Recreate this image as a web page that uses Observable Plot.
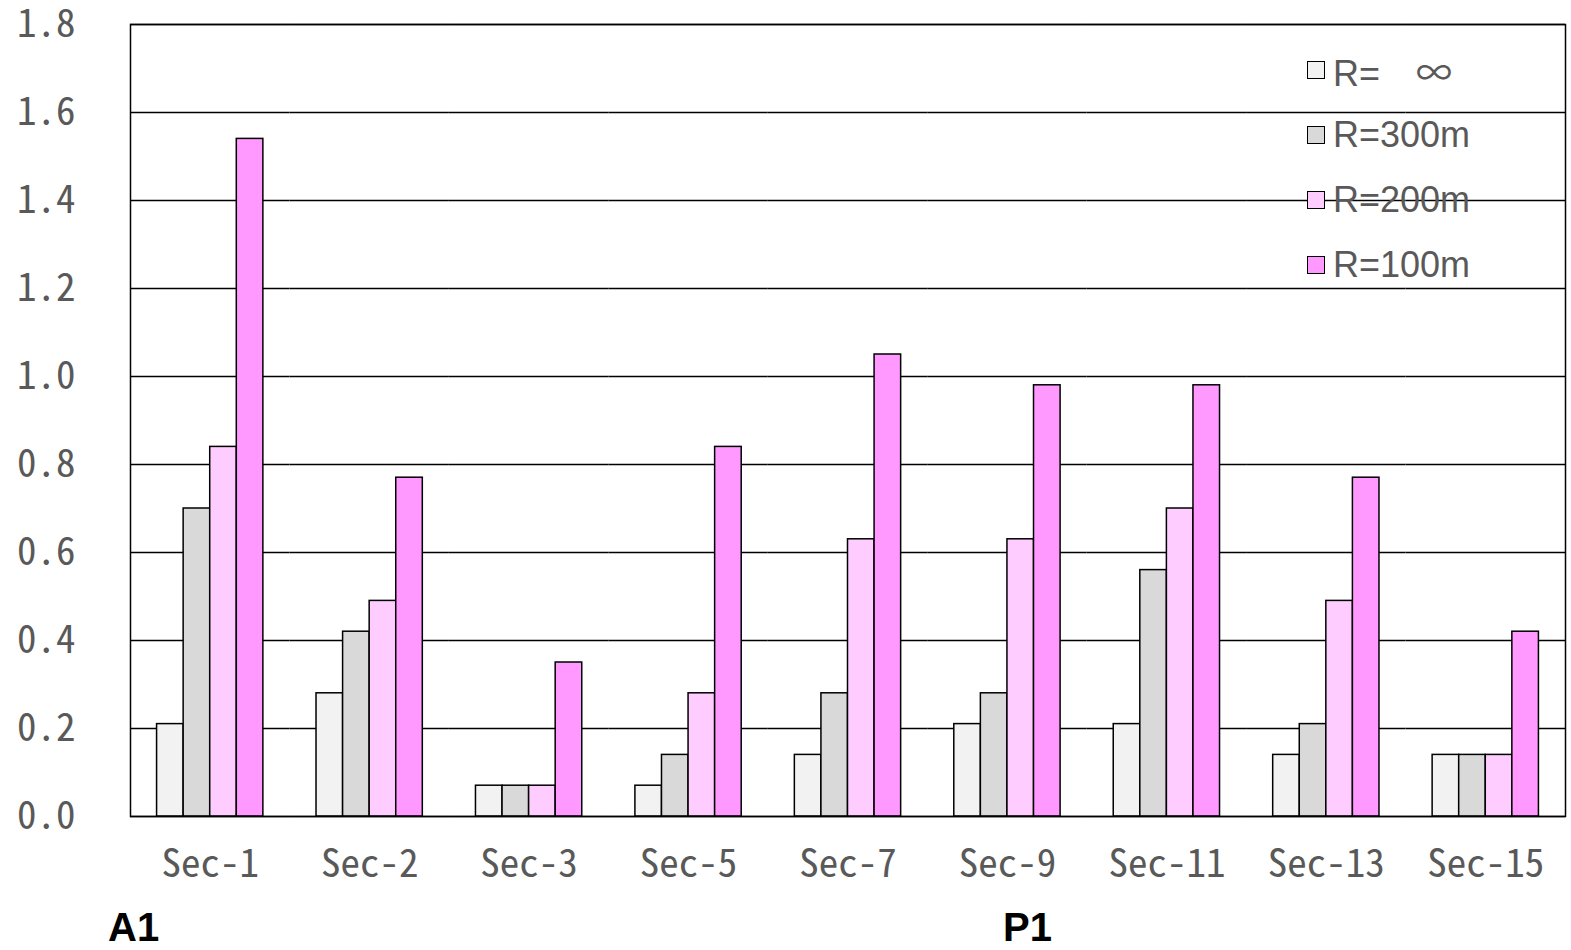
<!DOCTYPE html>
<html>
<head>
<meta charset="utf-8">
<script src="https://cdn.jsdelivr.net/npm/d3@7"></script>
<script src="https://cdn.jsdelivr.net/npm/@observablehq/plot@0.6"></script>
<style>
  html, body { margin: 0; padding: 0; background: #fff; }
  #wrap { position: relative; width: 1571px; height: 950px; }
  .legend { position: absolute; left: 1307px; top: 0; font-family: "Liberation Sans", Arial, sans-serif; font-size: 36px; color: #595959; }
  .item { position: absolute; left: 0; height: 40px; display: flex; align-items: center; white-space: pre; }
  .sw { width: 16px; height: 16px; border: 1.5px solid #000; margin-right: 8px; flex: none; }
  .tag { position: absolute; font-family: "Liberation Sans", Arial, sans-serif; font-weight: bold; font-size: 40px; line-height: 1; color: #000; }
  svg text { font-feature-settings: "hwid"; }
</style>
</head>
<body>
<div id="wrap"></div>
<script>
const categories = ["Sec-1","Sec-2","Sec-3","Sec-5","Sec-7","Sec-9","Sec-11","Sec-13","Sec-15"];
const seriesNames = ["R=\u3000∞","R=300m","R=200m","R=100m"];
const rInf = [0.21,0.28,0.07,0.07,0.14,0.21,0.21,0.14,0.14];
const r300 = [0.70,0.42,0.07,0.14,0.28,0.28,0.56,0.21,0.14];
const r200 = [0.84,0.49,0.07,0.28,0.63,0.63,0.70,0.49,0.14];
const r100 = [1.54,0.77,0.35,0.84,1.05,0.98,0.98,0.77,0.42];
const colors = ["#f2f2f2","#d9d9d9","#ffccff","#ff99ff"];
const yTicks = [0,0.2,0.4,0.6,0.8,1.0,1.2,1.4,1.6,1.8];
const tags = ["A1","P1"];

const seriesValues = [rInf, r300, r200, r100];
const data = [];
categories.forEach((c, i) => {
  seriesNames.forEach((s, j) => data.push({cat: c, series: s, value: seriesValues[j][i]}));
});

const chart = Plot.plot({
  width: 1571,
  height: 950,
  marginLeft: 130,
  marginRight: 6,
  marginTop: 24,
  marginBottom: 134,
  style: {fontFamily: "'Noto Sans CJK JP', sans-serif", fontSize: "39px", background: "#fff", overflow: "visible"},
  fx: {domain: categories, padding: 0, label: null, round: false},
  x: {domain: seriesNames, paddingInner: 0, paddingOuter: 1, axis: null, round: false},
  y: {domain: [0, 1.8], label: null},
  color: {domain: seriesNames, range: colors},
  marks: [
    Plot.ruleY(yTicks, {stroke: "#000", strokeWidth: 1.5}),
    Plot.barY(data, {fx: "cat", x: "series", y: "value", fill: "series", stroke: "#000", strokeWidth: 1.5}),
    Plot.frame({facet: "super", stroke: "#000", strokeWidth: 1.5}),
    Plot.axisY({anchor: "left", ticks: yTicks, tickFormat: d3.format(".1f"), tickSize: 0, tickPadding: 55, fill: "#595959", label: null}),
    Plot.axisFx({anchor: "bottom", tickSize: 0, tickPadding: 33, fill: "#595959", label: null})
  ]
});

const wrap = document.getElementById("wrap");
wrap.appendChild(chart);

const legend = document.createElement("div");
legend.className = "legend";
const centers = [70, 135, 200, 265];
seriesNames.forEach((s, i) => {
  const it = document.createElement("div");
  it.className = "item";
  it.style.top = (centers[i] - 20) + "px";
  const sw = document.createElement("div");
  sw.className = "sw";
  sw.style.background = colors[i];
  const tx = document.createElement("span");
  if (i === 0) {
    tx.innerHTML = 'R=<span style="font-family:\'Noto Sans CJK JP\'">\u3000∞</span>';
  } else {
    tx.textContent = s;
  }
  it.appendChild(sw);
  it.appendChild(tx);
  legend.appendChild(it);
});
wrap.appendChild(legend);

const tagPos = [[108, 907], [1003, 907]];
tags.forEach((t, i) => {
  const d = document.createElement("div");
  d.className = "tag";
  d.style.left = tagPos[i][0] + "px";
  d.style.top = tagPos[i][1] + "px";
  d.textContent = t;
  wrap.appendChild(d);
});
</script>
</body>
</html>
